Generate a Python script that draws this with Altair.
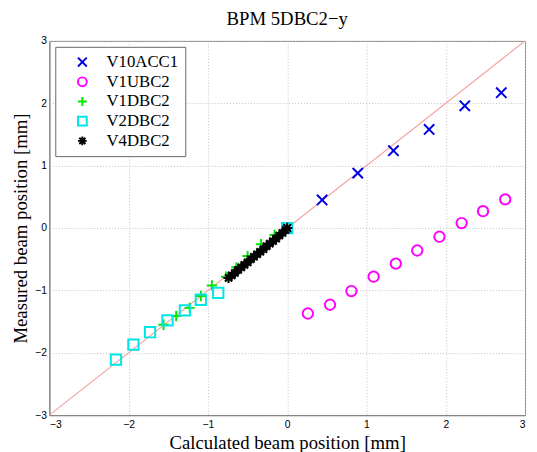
import altair as alt
import pandas as pd

series_names = ["V10ACC1", "V1UBC2", "V1DBC2", "V2DBC2", "V4DBC2"]
series_colors = ["#0000e6", "#ff00ff", "#00e600", "#00e6e6", "#000000"]

v10acc1_x = [0.0, 0.44, 0.89, 1.34, 1.79, 2.24, 2.70]
v10acc1_y = [0.0, 0.45, 0.88, 1.24, 1.58, 1.96, 2.17]

v1ubc2_x = [0.26, 0.54, 0.81, 1.09, 1.37, 1.64, 1.92, 2.20, 2.47, 2.75]
v1ubc2_y = [-1.37, -1.23, -1.01, -0.78, -0.57, -0.36, -0.14, 0.08, 0.27, 0.46]

v1dbc2_x = [-1.56, -1.40, -1.23, -1.09, -0.95, -0.77, -0.64, -0.50, -0.33, -0.16, 0.0]
v1dbc2_y = [-1.55, -1.41, -1.28, -1.09, -0.92, -0.78, -0.63, -0.45, -0.26, -0.11, 0.0]

v2dbc2_x = [-2.16, -1.94, -1.73, -1.51, -1.29, -1.09, -0.87, 0.0]
v2dbc2_y = [-2.11, -1.87, -1.67, -1.48, -1.32, -1.15, -1.04, 0.0]

v4dbc2_x = [-0.74, -0.70, -0.66, -0.62, -0.58, -0.54, -0.50, -0.46, -0.42, -0.38,
            -0.34, -0.30, -0.26, -0.22, -0.18, -0.14, -0.10, -0.06, -0.02, 0.0]
v4dbc2_y = [-0.80, -0.76, -0.72, -0.67, -0.63, -0.59, -0.55, -0.50, -0.46, -0.42,
            -0.38, -0.34, -0.29, -0.25, -0.21, -0.17, -0.12, -0.08, -0.03, 0.0]

ref_x = [-3, 3]
ref_y = [-3, 3]
tick_values = [-3, -2, -1, 0, 1, 2, 3]

rows = []
for name, xs, ys in [("V10ACC1", v10acc1_x, v10acc1_y), ("V1UBC2", v1ubc2_x, v1ubc2_y),
                     ("V1DBC2", v1dbc2_x, v1dbc2_y), ("V2DBC2", v2dbc2_x, v2dbc2_y),
                     ("V4DBC2", v4dbc2_x, v4dbc2_y)]:
    for a, b in zip(xs, ys):
        rows.append({"series": name, "x": a, "y": b})
df = pd.DataFrame(rows)
ref = pd.DataFrame({"x": ref_x, "y": ref_y})

shape_x = "M-1,-1L1,1M-1,1L1,-1"
shape_plus = "M-1,0L1,0M0,-1L0,1"
shape_star = "M-1,0L1,0M0,-1L0,1M-0.7,-0.7L0.7,0.7M-0.7,0.7L0.7,-0.7"
shapes = [shape_x, "circle", shape_plus, "square", shape_star]

xsc = alt.Scale(domain=[-3, 3], nice=False, zero=False)
ysc = alt.Scale(domain=[-3, 3], nice=False, zero=False)

xax = alt.Axis(values=tick_values, title="Calculated beam position [mm]")
yax = alt.Axis(values=tick_values, title="Measured beam position [mm]")

line = alt.Chart(ref).mark_line(color="#f4a0a0", strokeWidth=1.2, clip=True).encode(
    x=alt.X("x:Q", scale=xsc, axis=xax),
    y=alt.Y("y:Q", scale=ysc, axis=yax),
)

pts = alt.Chart(df).mark_point(filled=False, strokeWidth=2, size=110, opacity=1).encode(
    x=alt.X("x:Q", scale=xsc, axis=xax),
    y=alt.Y("y:Q", scale=ysc, axis=yax),
    color=alt.Color("series:N", scale=alt.Scale(domain=series_names, range=series_colors),
                    legend=alt.Legend(title=None, orient="top-left", offset=6)),
    shape=alt.Shape("series:N", scale=alt.Scale(domain=series_names, range=shapes),
                    legend=alt.Legend(title=None, orient="top-left", offset=6)),
)

chart = alt.layer(line, pts).properties(
    width=483, height=380,
    title=alt.Title("BPM 5DBC2\u2212y", font="Liberation Serif", fontSize=19,
                    fontWeight="normal", color="#000", offset=7),
    autosize=alt.AutoSizeParams(type="none"),
    padding={"left": 42, "top": 30, "right": 4, "bottom": 34},
).configure_view(stroke="#808080", strokeWidth=1).configure_axis(
    grid=True, gridDash=[1, 2], gridColor="#c0c0c0", gridOpacity=1,
    domainColor="#808080", tickColor="#000", ticks=False,
    labelFont="Liberation Sans", labelFontSize=10.5, labelColor="#000", labelPadding=4,
    titleFont="Liberation Serif", titleFontSize=19, titleFontWeight="normal", titleColor="#000",
).configure_axisX(titlePadding=3, labelPadding=5).configure_axisY(titlePadding=4, labelPadding=3).configure_legend(
    fillColor="#fff", strokeColor="#666", padding=7, labelFont="Liberation Serif",
    labelFontSize=17, labelColor="#000", symbolSize=80, symbolStrokeWidth=2,
    rowPadding=2, labelOffset=16, symbolOffset=12, cornerRadius=0,
)

chart.save("out.html", embed_options={"renderer": "svg", "actions": False})
